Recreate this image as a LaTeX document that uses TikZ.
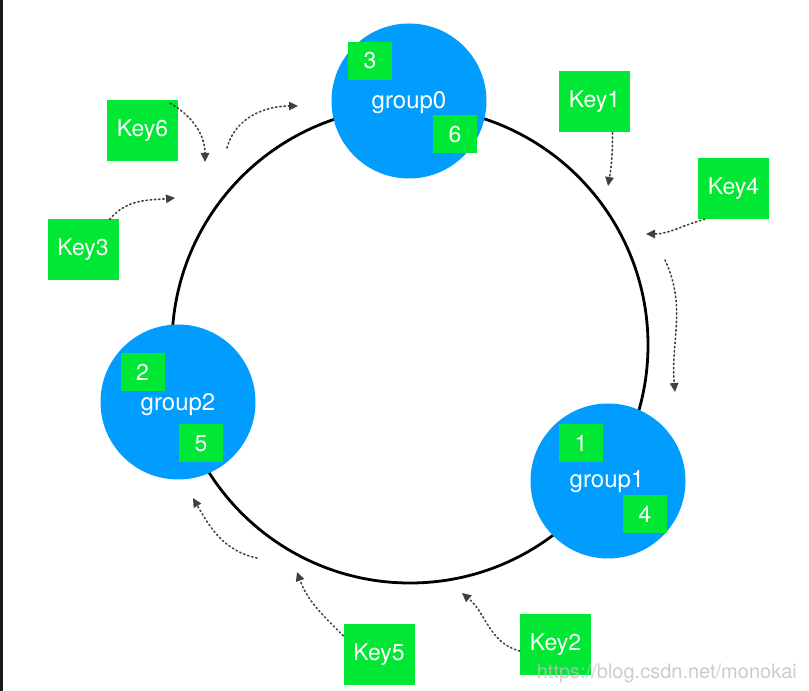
\documentclass[tikz,border=0pt]{standalone}
\usepackage{fontspec}
\setsansfont{TeX Gyre Heros}
\usetikzlibrary{arrows.meta}
\definecolor{ringblue}{RGB}{0,157,255}
\definecolor{keygreen}{RGB}{0,232,52}
\begin{document}
\begin{tikzpicture}[x=1pt,y=1pt,>={Triangle[length=9pt,width=8.5pt]},line cap=round,line join=round,
  keybox/.style={fill=keygreen,text=white,minimum width=71pt,minimum height=61pt,inner sep=0pt,font=\sffamily\fontsize{23}{27}\selectfont},
  slot/.style={fill=keygreen,text=white,minimum width=44pt,minimum height=38pt,inner sep=0pt,font=\sffamily\fontsize{23}{27}\selectfont},
  grp/.style={circle,fill=ringblue,minimum size=155pt,inner sep=0pt},
  grplabel/.style={text=white,inner sep=0pt,font=\sffamily\fontsize{24}{28}\selectfont},
  flow/.style={->,draw=black!75,line width=1.6pt,dash pattern=on 1.4pt off 2.8pt}]
\useasboundingbox (0,0) rectangle (809,691);
\fill[black!90] (0,0) rectangle (3,691);
% ring
\coordinate (o) at (410,346);
\draw[line width=2.8pt] (o) circle (238);
% groups
\node[grp] (g0) at (409,590) {};
\node[grp] (g1) at (608,210) {};
\node[grp] (g2) at (178,289) {};
\node[grplabel] (g0l) at (409,588) {group0};
\node[grplabel] (g1l) at (607,209) {group1};
\node[grplabel] (g2l) at (178,286) {group2};
\node[slot] (s3) at (370,630) {3};
\node[slot] (s6) at (455,556.5) {6};
\node[slot] (s1) at (581,247.5) {1};
\node[slot] (s4) at (645,176.5) {4};
\node[slot] (s2) at (142.5,319) {2};
\node[slot] (s5) at (201,247.5) {5};
% keys
\node[keybox] (k6) at (142.5,560) {Key6};
\node[keybox] (k3) at (83,441) {Key3};
\node[keybox] (k1) at (594.5,589) {Key1};
\node[keybox] (k4) at (733.5,502.5) {Key4};
\node[keybox] (k5) at (379,36.5) {Key5};
\node[keybox] (k2) at (555.5,46) {Key2};
% arrow ends
\coordinate (k6e) at (205,529);
\coordinate (k3e) at (175,493);
\coordinate (k1e) at (608,505);
\coordinate (k4e) at (646,457);
\coordinate (k5e) at (297,119);
\coordinate (k2e) at (462,98);
\coordinate (r0s) at (227,543);
\coordinate (r0e) at (298,585);
\coordinate (r1s) at (665,431);
\coordinate (r1e) at (675,299);
\coordinate (r2s) at (257,133);
\coordinate (r2e) at (193,193);
\draw[flow] ([xshift=-8pt,yshift=-3pt]k6.north east) to[out=-30,in=90] (k6e);
\draw[flow] ([xshift=-9pt]k3.north east) to[out=50,in=185] (k3e);
\draw[flow] ([xshift=18pt]k1.south) to[out=-90,in=80] (k1e);
\draw[flow] ([xshift=7pt]k4.south west) to[out=195,in=0] (k4e);
\draw[flow] ([yshift=-12pt]k5.north west) to[out=135,in=-70] (k5e);
\draw[flow] ([yshift=-6pt]k2.west) to[out=165,in=-40] (k2e);
\draw[flow] (r0s) to[out=75,in=180] (r0e);
\draw[flow] (r1s) to[out=-65,in=95] (r1e);
\draw[flow] (r2s) to[out=168,in=-60] (r2e);
% watermark
\node[anchor=east,text=black!25,text opacity=0.8,inner sep=0pt,font=\sffamily\fontsize{20}{24}\selectfont] (wm) at (797,18) {https://blog.csdn.net/monokai};
\end{tikzpicture}
\end{document}
